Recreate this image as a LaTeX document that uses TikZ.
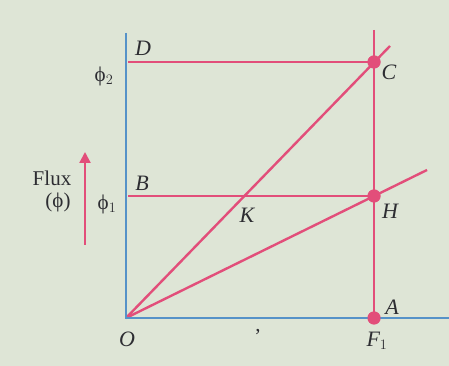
\documentclass[tikz,border=0pt]{standalone}
\usepackage{fontspec}
\setmainfont{Liberation Serif}
\usetikzlibrary{arrows.meta}
\definecolor{bgc}{RGB}{222,229,214}
\definecolor{pinkl}{RGB}{226,78,122}
\definecolor{bluel}{RGB}{86,146,200}
\definecolor{txt}{RGB}{45,45,50}
\tikzset{
  axis/.style={draw=bluel,line width=2.8pt},
  pline/.style={draw=pinkl,line width=2.4pt},
  dot/.style={circle,fill=pinkl,inner sep=0pt,minimum size=13pt},
  lbl/.style={font=\fontsize{22}{24}\selectfont\itshape,text=txt,inner sep=1pt},
  ulbl/.style={font=\fontsize{21}{20}\selectfont,text=txt,inner sep=0pt,align=center}
}
\begin{document}
\begin{tikzpicture}[x=1pt,y=1pt]
\fill[bgc] (0,0) rectangle (449,366);
\useasboundingbox (0,0) rectangle (449,366);
\coordinate (O) at (126,48);
\coordinate (Ytop) at (126,333);
\coordinate (Xend) at (449,48);
\coordinate (Vtop) at (374,336);
\coordinate (Dp) at (128,304);
\coordinate (Bp) at (128,170);
\coordinate (Cext) at (390,320);
\coordinate (Hext) at (427,196);
\node[dot] (C) at (374,304) {};
\node[dot] (H) at (374,170) {};
\node[dot] (A) at (374,48) {};
% pink lines
\draw[pline] (Vtop) -- (A.center);
\draw[pline] (Dp) -- (C.center);
\draw[pline] (Bp) -- (H.center);
\draw[pline] (O) -- (Cext);
\draw[pline] (O) -- (Hext);
% axes
\draw[axis] (Ytop) -- (O) -- (Xend);
\node[dot] at (C) {};
\node[dot] at (H) {};
\node[dot] at (A) {};
% labels
\node[lbl] (Dl) at (143,318) {D};
\node[lbl] (Cl) at (389,294) {C};
\node[lbl] (Bl) at (142,183) {B};
\node[lbl] (Hl) at (390,155) {H};
\node[lbl] (Kl) at (247,151) {K};
\node[lbl] (Al) at (392,59) {A};
\node[lbl] (Ol) at (127,27) {O};
\node[lbl] (Fl) at (377,25) {F$_1$};
\node[ulbl] (p2) at (104,290) {ϕ$_2$};
\node[ulbl] (p1) at (107,162) {ϕ$_1$};
\node[ulbl] (fluxA) at (52,188) {Flux};
\node[ulbl] (fluxB) at (58,164) {(ϕ)};
\node[ulbl] (comma) at (258,34) {,};
% flux arrow
\coordinate (fa1) at (85,121);
\coordinate (fa2) at (85,214);
\draw[draw=pinkl,line width=2.2pt,-{Triangle[width=11pt,length=11pt]}] (fa1) -- (fa2);
\end{tikzpicture}
\end{document}
